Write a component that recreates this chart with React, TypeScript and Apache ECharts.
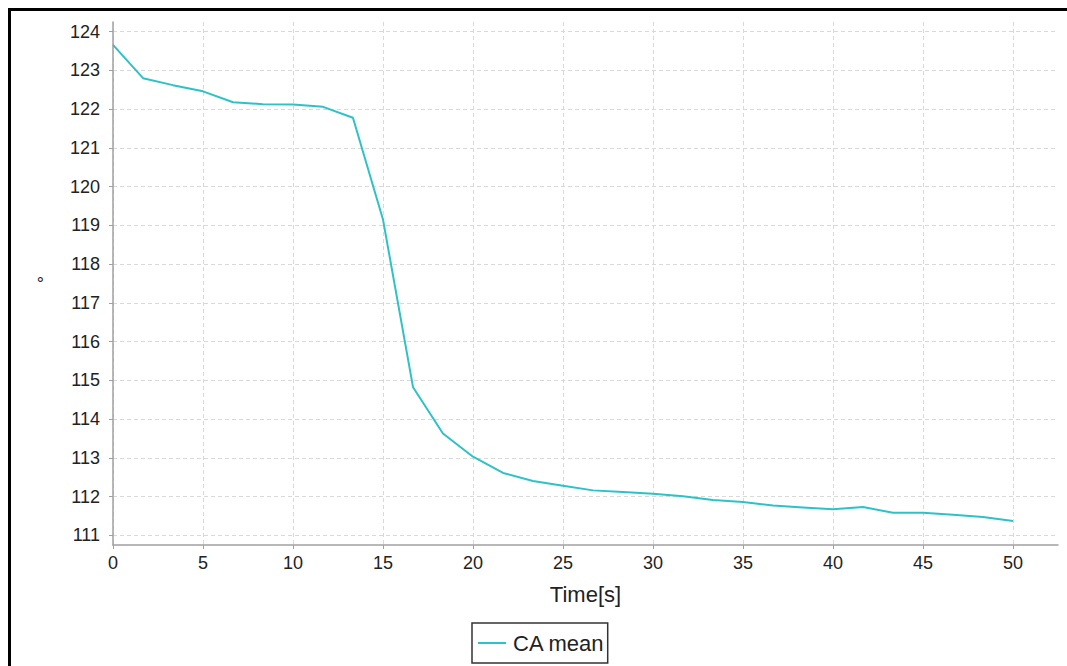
import React, { useEffect, useRef } from "react";
import * as echarts from "echarts";

// Time stamps of the samples (s)
const timeSeconds = [
  0, 1.67, 3.33, 5, 6.67, 8.33, 10, 11.67, 13.33, 15, 16.67, 18.33, 20, 21.67,
  23.33, 25, 26.67, 28.33, 30, 31.67, 33.33, 35, 36.67, 38.33, 40, 41.67, 43.33,
  45, 46.67, 48.33, 50,
];

// Mean contact angle (degrees)
const caMean = [
  123.66, 122.8, 122.62, 122.46, 122.18, 122.13, 122.12, 122.06, 121.78, 119.15,
  114.82, 113.63, 113.03, 112.61, 112.4, 112.28, 112.16, 112.12, 112.07, 112.01,
  111.91, 111.86, 111.77, 111.72, 111.67, 111.73, 111.58, 111.58, 111.53, 111.47,
  111.37,
];

const xTicks = [0, 5, 10, 15, 20, 25, 30, 35, 40, 45, 50];
const yTicks = [111, 112, 113, 114, 115, 116, 117, 118, 119, 120, 121, 122, 123, 124];

const seriesName = "CA mean";
const xName = "Time[s]";
const yName = "°";

const FONT = "'Liberation Sans', Arial, sans-serif";

export default function App() {
  const ref = useRef<HTMLDivElement>(null);

  useEffect(() => {
    if (!ref.current) return;
    const chart = echarts.init(ref.current, undefined, { renderer: "svg" });
    const gridLine = { show: true, lineStyle: { color: "#d9d9d9", width: 1, type: [4, 3] as any } };
    chart.setOption({
      animation: false,
      backgroundColor: "#ffffff",
      grid: { left: 113, right: 9, top: 22, bottom: 121, containLabel: false },
      xAxis: {
        type: "value",
        min: 0,
        max: 52.5,
        interval: 5,
        name: xName,
        nameLocation: "middle",
        nameGap: 38,
        nameTextStyle: { fontFamily: FONT, fontSize: 22, color: "#222" },
        axisLine: { show: true, lineStyle: { color: "#a0a0a0", width: 1.5 } },
        axisTick: { show: true, length: 4, lineStyle: { color: "#a0a0a0" }, customValues: xTicks },
        axisLabel: { fontFamily: FONT, fontSize: 18, color: "#222", margin: 9, customValues: xTicks },
        splitLine: gridLine,
      },
      yAxis: {
        type: "value",
        min: 110.75,
        max: 124.25,
        splitNumber: 13,
        name: yName,
        nameLocation: "middle",
        nameRotate: 0,
        nameGap: 69,
        nameTextStyle: { fontFamily: FONT, fontSize: 18, color: "#222", verticalAlign: "middle", padding: [12, 0, 0, 0] },
        axisLine: { show: true, lineStyle: { color: "#a0a0a0", width: 1.5 } },
        axisTick: { show: true, length: 4, lineStyle: { color: "#a0a0a0" }, customValues: yTicks },
        axisLabel: { fontFamily: FONT, fontSize: 18, color: "#222", margin: 13, customValues: yTicks },
        splitLine: gridLine,
      },
      legend: {
        left: 472,
        top: 623,
        orient: "horizontal",
        data: [{ name: seriesName, icon: "rect" }],
        itemWidth: 28,
        itemHeight: 2,
        itemGap: 0,
        padding: [9, 3, 9, 6],
        borderColor: "#333",
        borderWidth: 1.5,
        textStyle: { fontFamily: FONT, fontSize: 22, color: "#222", padding: [0, 0, 0, 2] },
      },
      graphic: [
        {
          type: "polyline",
          shape: { points: [[9.5, 666], [9.5, 9.5], [1067, 9.5]] },
          style: { stroke: "#000", lineWidth: 3, fill: "none" },
          silent: true,
        },
      ],
      series: [
        {
          name: seriesName,
          type: "line",
          data: timeSeconds.map((t, i) => [t, caMean[i]]),
          symbol: "none",
          lineStyle: { color: "#2ec2c6", width: 2 },
          itemStyle: { color: "#2ec2c6" },
        },
      ],
    });
    return () => chart.dispose();
  }, []);

  return (
    <div
      ref={ref}
      style={{ position: "absolute", left: 0, top: 0, width: 1067, height: 666 }}
    />
  );
}
